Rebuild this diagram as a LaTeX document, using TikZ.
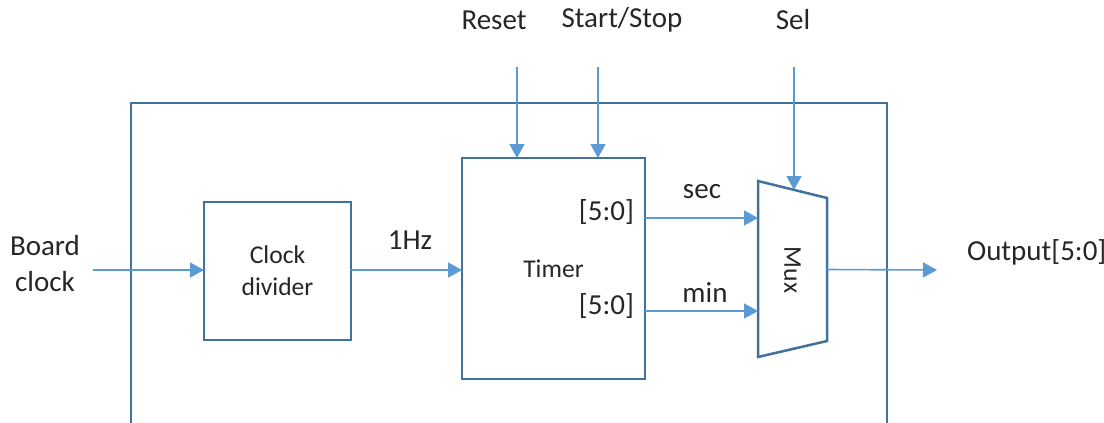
\documentclass[tikz,border=0pt]{standalone}
\usepackage{fontspec}
\setmainfont{Carlito}
\usetikzlibrary{arrows.meta,calc}
\definecolor{boxblue}{HTML}{41719C}
\definecolor{arrowblue}{HTML}{5B9BD5}
\begin{document}
\begin{tikzpicture}[x=0.5pt, y=-0.5pt,
		big/.style={font=\fontsize{14.5}{18}\selectfont, text=black!85},
		small/.style={font=\fontsize{12.8}{16}\selectfont, text=black!85},
		block/.style={draw=boxblue, line width=1.25pt, inner sep=0pt, outer sep=0pt, align=center, small},
		arr/.style={draw=arrowblue, line width=0.8pt, -{Triangle[length=7pt, width=7.5pt]}}]
		\useasboundingbox (0,0) rectangle (1104,423);
		% enclosing board
		\draw[boxblue, line width=1.25pt] (131,430) -- (131,103) -- (887,103) -- (887,430);
		
		\node[block, minimum width=73.5pt, minimum height=69pt] (div) at (277.5,271) {Clock\\divider};
		\node[block, minimum width=91.5pt, minimum height=110.5pt] (timer) at (553.5,268.5) {Timer};
		
		% mux
		\coordinate (m1) at (758,181);
		\coordinate (m2) at (827,198);
		\coordinate (m3) at (827,341);
		\coordinate (m4) at (758,357);
		\draw[boxblue, line width=1.25pt] (m1) -- (m2) -- (m3) -- (m4) -- cycle;
		\node[small, rotate=-90] (mux) at (792.5,270) {Mux};
		
		% labels
		\node[big, align=center] (board) at (45,264) {Board\\clock};
		\node[big] (reset) at (494,20) {Reset};
		\node[big] (start) at (622,20) {Start/Stop};
		\node[big] (sel) at (793,20) {Sel};
		\node[big, anchor=west] (out) at (960,252) {Output[5:0]};
		\node[big] (hz) at (410,240) {1Hz};
		\node[big] (sec) at (702,192) {sec};
		\node[big] (min) at (705,293) {min};
		\node[big, anchor=east] (ts) at (641,212) {[5:0]};
		\node[big, anchor=east] (tm) at (641,306) {[5:0]};
		
		\coordinate (bc) at (93,270);
		\coordinate (rs) at (517,67);
		\coordinate (ss) at (598,67);
		\coordinate (sl) at (794,67);
		\coordinate (selin) at (794,190);
		\coordinate (secin) at (758,218);
		\coordinate (minin) at (758,311);
		\coordinate (muxout) at ($(m2)!0.5!(m3)$);
		\coordinate (outend) at (937,270);
		
		\draw[arr] (bc) -- (bc -| div.west);
		\draw[arr] (div.east |- 0,270) -- (timer.west |- 0,270);
		\draw[arr] (rs) -- (rs |- timer.north);
		\draw[arr] (ss) -- (ss |- timer.north);
		\draw[arr] (sl) -- (selin);
		\draw[arr] (timer.east |- secin) -- (secin);
		\draw[arr] (timer.east |- minin) -- (minin);
		\draw[arr] (muxout) -- (outend);
	\end{tikzpicture}
\end{document}
